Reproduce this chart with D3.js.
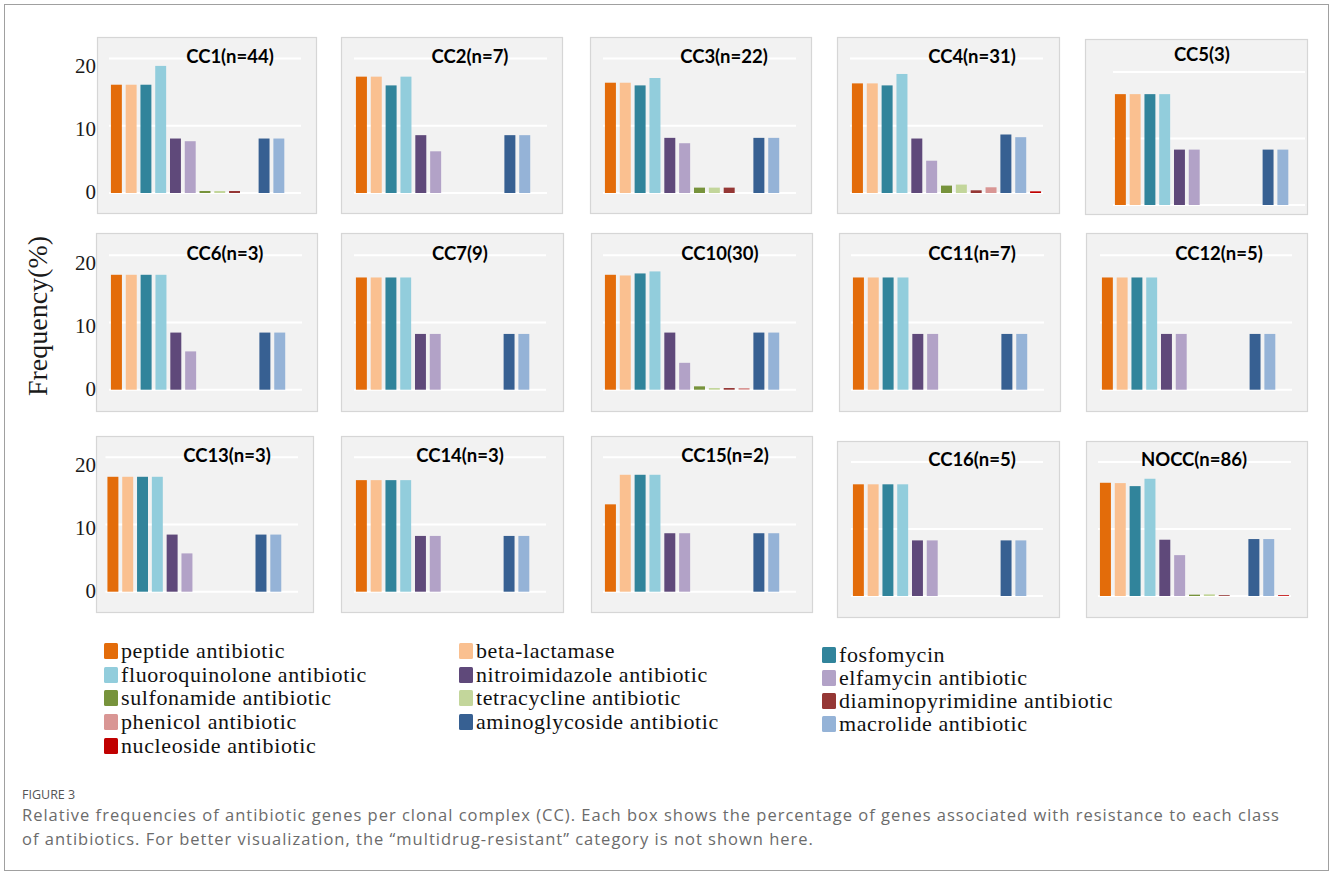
<!DOCTYPE html>
<html>
<head>
<meta charset="utf-8">
<script src="https://cdn.jsdelivr.net/npm/d3@7"></script>
<style>
  html, body { margin: 0; padding: 0; background: #ffffff; }
  svg { display: block; }
</style>
</head>
<body>
<svg id="chart" width="1333" height="875"></svg>
<script>
// ---------------- DATA ----------------
const categories = [
  "peptide antibiotic", "beta-lactamase", "fosfomycin",
  "fluoroquinolone antibiotic", "nitroimidazole antibiotic", "elfamycin antibiotic",
  "sulfonamide antibiotic", "tetracycline antibiotic", "diaminopyrimidine antibiotic",
  "phenicol antibiotic", "aminoglycoside antibiotic", "macrolide antibiotic",
  "nucleoside antibiotic"
];
const panelTitles = [
  "CC1(n=44)", "CC2(n=7)", "CC3(n=22)", "CC4(n=31)", "CC5(3)",
  "CC6(n=3)", "CC7(9)", "CC10(30)", "CC11(n=7)", "CC12(n=5)",
  "CC13(n=3)", "CC14(n=3)", "CC15(n=2)", "CC16(n=5)", "NOCC(n=86)"
];
const cc1  = [16.1, 16.1, 16.1, 18.9, 8.1, 7.7, 0.3, 0.3, 0.3, 0, 8.1, 8.1, 0];
const cc2  = [17.3, 17.3, 16.0, 17.3, 8.6, 6.2, 0, 0, 0, 0, 8.6, 8.6, 0];
const cc3  = [16.4, 16.4, 16.0, 17.1, 8.2, 7.4, 0.8, 0.8, 0.8, 0, 8.2, 8.2, 0];
const cc4  = [16.3, 16.3, 16.0, 17.7, 8.1, 4.8, 1.1, 1.25, 0.4, 0.85, 8.7, 8.3, 0.25];
const cc5  = [16.67, 16.67, 16.67, 16.67, 8.33, 8.33, 0, 0, 0, 0, 8.33, 8.33, 0];
const cc6  = [17.1, 17.1, 17.1, 17.1, 8.5, 5.7, 0, 0, 0, 0, 8.5, 8.5, 0];
const cc7  = [16.7, 16.7, 16.7, 16.7, 8.3, 8.3, 0, 0, 0, 0, 8.3, 8.3, 0];
const cc10 = [17.1, 17.0, 17.3, 17.6, 8.5, 4.0, 0.5, 0.25, 0.25, 0.25, 8.5, 8.5, 0];
const cc11 = [16.7, 16.7, 16.7, 16.7, 8.3, 8.3, 0, 0, 0, 0, 8.3, 8.3, 0];
const cc12 = [16.7, 16.7, 16.7, 16.7, 8.3, 8.3, 0, 0, 0, 0, 8.3, 8.3, 0];
const cc13 = [17.1, 17.1, 17.1, 17.1, 8.5, 5.7, 0, 0, 0, 0, 8.5, 8.5, 0];
const cc14 = [16.6, 16.6, 16.6, 16.6, 8.3, 8.3, 0, 0, 0, 0, 8.3, 8.3, 0];
const cc15 = [13.0, 17.4, 17.4, 17.4, 8.7, 8.7, 0, 0, 0, 0, 8.7, 8.7, 0];
const cc16 = [16.67, 16.67, 16.67, 16.67, 8.3, 8.3, 0, 0, 0, 0, 8.3, 8.3, 0];
const nocc = [16.9, 16.85, 16.4, 17.5, 8.4, 6.1, 0.2, 0.25, 0.12, 0, 8.5, 8.5, 0.12];
const panelValues = [cc1, cc2, cc3, cc4, cc5, cc6, cc7, cc10, cc11, cc12, cc13, cc14, cc15, cc16, nocc];
const yTicks = [0, 10, 20];
const yTickLabels = ["0", "10", "20"];

// ---------------- STYLE / LAYOUT ----------------
const colors = [
  "#e36c0a", "#fac090", "#31849b",
  "#92cddc", "#5f497a", "#b2a2c7",
  "#77933c", "#c3d69b", "#953735",
  "#d99694", "#376092", "#95b3d7",
  "#c00000"
];
// box: x0,x1,y0,y1 ; grid: gx0,gx1, yZero, yTwenty ; title: tx, ty ; ticks shown?
const layout = [
  {b:[97,316,37,213],  g:[109,301,193,58.5],  t:[230,63],  ticks:true},
  {b:[341,562,37,213], g:[354,547,193,58.5],  t:[470,63]},
  {b:[590,811,37,213], g:[603,796,193,58.5],  t:[724,63]},
  {b:[837,1059,37,213],g:[850,1043,193,58.5], t:[972,63]},
  {b:[1085,1307,39,214],g:[1113,1305,205,72], t:[1202,61]},
  {b:[96,317,233,411], g:[109,302,389.7,255.3], t:[225,260], ticks:true},
  {b:[341,563,233,411],g:[354,546,389.7,255.3], t:[460,260]},
  {b:[591,812,233,411],g:[603,796,389.7,255.3], t:[720,260]},
  {b:[839,1060,233,411],g:[851,1044,389.7,255.3], t:[972,260]},
  {b:[1086,1307,233,411],g:[1100,1292,389.7,255.3], t:[1219,260]},
  {b:[96,313,436,612], g:[105.5,298,591.7,457.3], t:[227,462], ticks:true},
  {b:[341,563,436,612],g:[354,546,591.7,457.3], t:[460,462]},
  {b:[591,812,436,612],g:[603,796,591.7,457.3], t:[725,462]},
  {b:[837,1059,441,617],g:[851,1043,596,462], t:[972,466]},
  {b:[1086,1307,441,617],g:[1098,1291,596,462], t:[1194,466]}
];

const svg = d3.select("#chart");

// outer frame
svg.append("rect").attr("x", 4.5).attr("y", 4.5).attr("width", 1324).attr("height", 866)
  .attr("fill", "none").attr("stroke", "#a0a0a0").attr("stroke-width", 1);

const color = d3.scaleOrdinal().domain(categories).range(colors);

panelValues.forEach((vals, i) => {
  const L = layout[i];
  const g = svg.append("g");
  g.append("rect")
    .attr("x", L.b[0] + 0.5).attr("y", L.b[2] + 0.5)
    .attr("width", L.b[1] - L.b[0]).attr("height", L.b[3] - L.b[2])
    .attr("fill", "#f2f2f2").attr("stroke", "#d6d6d6").attr("stroke-width", 1.2);

  const x = d3.scaleBand().domain(categories).range([L.g[0], L.g[1]])
    .paddingInner(0.26).paddingOuter(0.13);
  const y = d3.scaleLinear().domain([0, 20]).range([L.g[2], L.g[3]]);

  // gridlines
  g.selectAll("line.grid").data(yTicks).enter().append("line")
    .attr("x1", L.g[0]).attr("x2", L.g[1])
    .attr("y1", d => y(d)).attr("y2", d => y(d))
    .attr("stroke", "#ffffff").attr("stroke-width", 2);

  // bars
  const rows = categories.map((c, k) => ({c, v: vals[k]}));
  g.selectAll("rect.bar").data(rows).enter().append("rect")
    .attr("x", d => x(d.c)).attr("width", x.bandwidth())
    .attr("y", d => y(d.v)).attr("height", d => y(0) - y(d.v))
    .attr("fill", d => color(d.c));

  // title
  g.append("text").attr("x", L.t[0]).attr("y", L.t[1])
    .attr("text-anchor", "middle")
    .attr("font-family", "Lato, 'Open Sans', sans-serif")
    .attr("font-weight", "bold").attr("font-size", 18.5)
    .attr("fill", "#000").text(panelTitles[i]);

  if (L.ticks) {
    const yl = d3.scaleLinear().domain([0, 20]).range([L.g[2] - 1, L.g[3] + 7.5]);
    const axis = d3.axisLeft(yl).tickValues(yTicks)
      .tickFormat((d, k) => yTickLabels[k]).tickSize(0).tickPadding(0);
    const ag = svg.append("g").attr("transform", "translate(96,0)").call(axis);
    ag.select(".domain").remove();
    ag.selectAll("text")
      .attr("font-family", "'Liberation Serif', 'Times New Roman', serif")
      .attr("font-size", 21).attr("fill", "#1a1a1a");
  }
});

// y axis title
svg.append("text")
  .attr("transform", "translate(47,316) rotate(-90)")
  .attr("text-anchor", "middle")
  .attr("font-family", "'Liberation Serif', 'Times New Roman', serif")
  .attr("font-size", 28).attr("fill", "#1a1a1a")
  .text("Frequency(%)");

// legend
const legendCols = [104, 459, 822];
const legendRowY = [[651, 675, 698, 722, 746], [651, 675, 698, 722], [655, 678, 701, 724]];
categories.forEach((c, k) => {
  const col = k % 3, row = Math.floor(k / 3);
  const lx = legendCols[col], ly = legendRowY[col][row];
  svg.append("rect").attr("x", lx).attr("y", ly - 8).attr("width", 14).attr("height", 16)
    .attr("rx", 1.5).attr("fill", color(c));
  svg.append("text").attr("x", lx + 17).attr("y", ly + 6.5)
    .attr("font-family", "'Liberation Serif', 'Times New Roman', serif")
    .attr("font-size", 22).attr("letter-spacing", 0.6)
    .attr("fill", "#111").text(c);
});

// caption
svg.append("text").attr("x", 22).attr("y", 799)
  .attr("font-family", "'Open Sans', sans-serif").attr("font-size", 12.5)
  .attr("fill", "#555").text("FIGURE 3");
svg.append("text").attr("x", 22).attr("y", 821)
  .attr("font-family", "'Open Sans', sans-serif").attr("font-size", 16.5)
  .attr("letter-spacing", 1.0)
  .attr("fill", "#6b6b6b")
  .text("Relative frequencies of antibiotic genes per clonal complex (CC). Each box shows the percentage of genes associated with resistance to each class");
svg.append("text").attr("x", 22).attr("y", 845)
  .attr("font-family", "'Open Sans', sans-serif").attr("font-size", 16.5)
  .attr("letter-spacing", 1.0)
  .attr("fill", "#6b6b6b")
  .text("of antibiotics. For better visualization, the \u201cmultidrug-resistant\u201d category is not shown here.");
</script>
</body>
</html>
